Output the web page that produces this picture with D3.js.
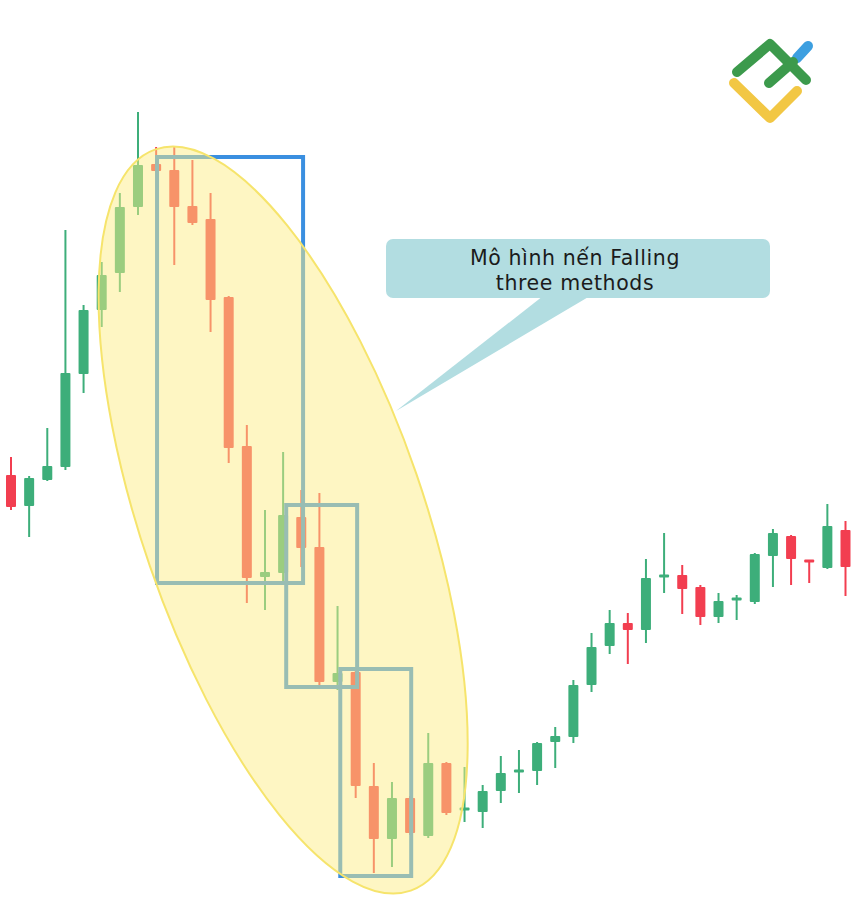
<!DOCTYPE html>
<html>
<head>
<meta charset="utf-8">
<script src="https://cdn.jsdelivr.net/npm/d3@7/dist/d3.min.js"></script>
<style>
  html, body { margin: 0; padding: 0; background: #ffffff; }
  svg { display: block; }
</style>
</head>
<body>
<svg id="chart" width="853" height="916"></svg>
<script>
// ---- Data (price units) ----
const openP  = [44.5,41.4,44.0,45.3,54.6,61.0,64.7,71.3,75.6,75.0,71.4,70.1,62.3,47.4,34.3,34.7,40.3,37.3,23.8,24.8,13.4,8.1,12.2,8.4,15.7,10.9,10.8,12.9,14.7,14.9,17.8,18.3,23.5,27.4,29.7,29.0,34.2,34.5,33.3,30.3,31.9,31.8,36.4,38.4,35.9,35.2,39.0];
const highP  = [46.3,44.4,49.2,69.0,61.5,65.8,72.7,80.8,77.3,77.3,76.0,72.7,62.4,49.5,41.0,46.8,43.0,42.7,31.4,25.0,15.7,13.8,12.4,18.7,15.8,15.3,13.5,16.4,17.0,17.8,19.3,24.0,28.7,31.0,30.7,36.1,38.7,35.5,33.5,32.7,32.5,36.7,39.1,38.5,36.0,41.6,39.9];
const lowP   = [41.0,38.3,43.9,45.0,52.7,59.3,62.8,70.5,74.8,65.5,69.5,58.8,45.7,31.7,31.0,33.5,35.3,23.3,23.0,12.2,4.7,5.3,8.5,8.2,10.5,9.8,9.2,11.7,12.7,13.5,15.2,17.7,22.8,26.6,25.6,27.7,32.7,30.6,29.5,29.7,30.0,31.6,33.3,33.5,33.7,35.1,32.4];
const closeP = [41.3,44.2,45.4,54.7,61.0,64.5,71.3,75.5,74.9,71.3,69.7,62.0,47.2,34.2,34.8,40.5,37.2,23.8,24.7,13.4,8.1,12.2,8.7,15.7,10.7,11.1,12.9,14.7,14.9,17.7,18.4,23.5,27.3,29.7,29.0,34.2,34.4,33.1,30.3,31.9,32.1,36.6,38.7,36.1,35.7,39.4,35.3];
// candle colour (1 = bullish, 0 = bearish)
const bullish = [0,1,1,1,1,1,1,1,0,0,0,0,0,0,1,1,0,0,1,0,0,1,0,1,0,1,1,1,1,1,1,1,1,1,0,1,1,0,0,1,1,1,1,0,0,1,0];

// Pattern boxes: [startIndex, endIndex, topPrice, bottomPrice]
const boxStart  = [8.05, 15.17, 18.15];
const boxEnd    = [16.1, 19.08, 22.06];
const boxTop    = [76.3, 41.5, 25.1];
const boxBottom = [33.7, 23.3, 4.4];

// Highlight ellipse centre (index, price)
const ellipseCenter = [15.0, 40.0];

const calloutLines = ["Mô hình nến Falling", "three methods"];

// ---- Scales ----
const W = 853, H = 916;
const x = d3.scaleLinear().domain([0, 46]).range([11, 845.5]);
const y = d3.scaleLinear().domain([0, 92]).range([920, 0]);

const svg = d3.select("#chart");
svg.append("rect").attr("width", W).attr("height", H).attr("fill", "#ffffff");

const GREEN = "#3dae7a", RED = "#f23e50";
const candles = openP.map((o, i) => ({ i, o, h: highP[i], l: lowP[i], c: closeP[i], up: bullish[i] === 1 }));

const gC = svg.append("g");
gC.selectAll("line.wick").data(candles).join("line")
  .attr("class", "wick")
  .attr("x1", d => x(d.i)).attr("x2", d => x(d.i))
  .attr("y1", d => y(d.h)).attr("y2", d => y(d.l))
  .attr("stroke", d => d.up ? GREEN : RED)
  .attr("stroke-width", 2);

const bodyW = 10;
gC.selectAll("rect.body").data(candles).join("rect")
  .attr("class", "body")
  .attr("x", d => x(d.i) - bodyW / 2)
  .attr("width", bodyW)
  .attr("y", d => Math.min(y(d.o), y(d.c)) - (Math.abs(y(d.o) - y(d.c)) < 3 ? 1.5 : 0))
  .attr("height", d => Math.max(3, Math.abs(y(d.o) - y(d.c))))
  .attr("rx", 1)
  .attr("fill", d => d.up ? GREEN : RED);

// ---- Pattern boxes ----
const boxes = boxStart.map((s, k) => ({ s, e: boxEnd[k], t: boxTop[k], b: boxBottom[k] }));
svg.append("g").selectAll("rect").data(boxes).join("rect")
  .attr("x", d => x(d.s)).attr("y", d => y(d.t))
  .attr("width", d => x(d.e) - x(d.s))
  .attr("height", d => y(d.b) - y(d.t))
  .attr("fill", "none")
  .attr("stroke", "#3a8fe0")
  .attr("stroke-width", 4);

// ---- Highlight ellipse (translucent overlay) ----
const ecx = x(ellipseCenter[0]), ecy = y(ellipseCenter[1]);
svg.append("ellipse")
  .attr("cx", 0).attr("cy", 0)
  .attr("rx", 141).attr("ry", 392)
  .attr("transform", `translate(${ecx},${ecy}) rotate(-19)`)
  .attr("fill", "#fdec84")
  .attr("fill-opacity", 0.49)
  .attr("stroke", "#f6e46c")
  .attr("stroke-width", 2);

// ---- Callout ----
const cg = svg.append("g");
cg.append("path")
  .attr("d", "M543,296 L590,296 L396,411 Z")
  .attr("fill", "#b2dde1");
cg.append("rect")
  .attr("x", 386).attr("y", 239).attr("width", 384).attr("height", 59)
  .attr("rx", 7)
  .attr("fill", "#b2dde1");
cg.selectAll("text").data(calloutLines).join("text")
  .attr("x", 575)
  .attr("y", (d, i) => 265 + i * 25)
  .attr("text-anchor", "middle")
  .attr("font-family", "'DejaVu Sans', 'Open Sans', sans-serif")
  .attr("font-size", 20.5)
  .attr("letter-spacing", 0.6)
  .attr("fill", "#1b1b1b")
  .text(d => d);

// ---- Logo ----
const lg = svg.append("g").attr("fill", "none").attr("stroke-linecap", "round").attr("stroke-linejoin", "round").attr("stroke-width", 10);
lg.append("path").attr("d", "M797,58 L808,46").attr("stroke", "#3d9fe0");
lg.append("path").attr("d", "M734,83 L770,118 L797,91").attr("stroke", "#f2c744");
lg.append("path").attr("d", "M737,72 L770,44 L806,80").attr("stroke", "#3c9a4c");
lg.append("path").attr("d", "M769,83 L793,62").attr("stroke", "#3c9a4c");
</script>
</body>
</html>
